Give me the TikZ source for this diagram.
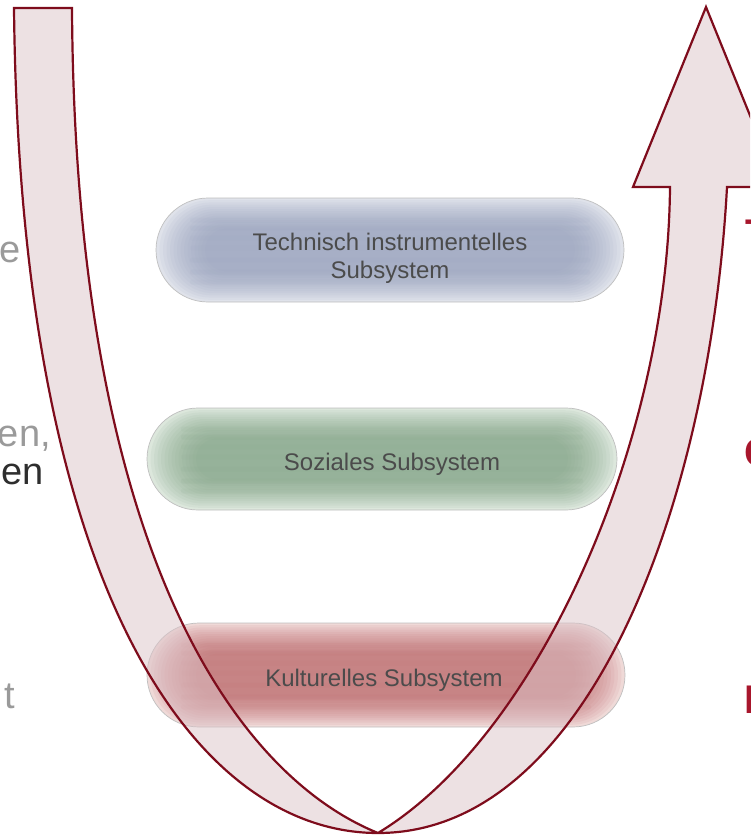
\documentclass[tikz,border=0pt]{standalone}
\usepackage{fontspec}
\setmainfont{Liberation Sans}
\definecolor{arrowline}{HTML}{7E0C1C}
\definecolor{arrowfill}{HTML}{DCC3C8}
\definecolor{techlight}{HTML}{DFE2EA}
\definecolor{techcore}{HTML}{98A2BE}
\definecolor{sozlight}{HTML}{DCE7DC}
\definecolor{sozcore}{HTML}{82A487}
\definecolor{kultlight}{HTML}{EFD9D7}
\definecolor{kultcore}{HTML}{BE6A6D}
\definecolor{captext}{HTML}{4B4B4B}
\definecolor{sidegray}{HTML}{9A9A9A}
\definecolor{sidedark}{HTML}{2E2E2E}
\definecolor{sidered}{HTML}{A8162C}

% soft brush-like band: light base, darker layers towards the middle
\newcommand\drawblob[6]{%
  \fill[#5, draw=black!25, line width=0.7pt, rounded corners=#4/2*1pt]
    (#1-#3/2,#2-#4/2) rectangle (#1+#3/2,#2+#4/2);
  \foreach \k in {1,...,14}{%
    \pgfmathsetmacro\rr{#4/2-2.2*\k}
    \fill[#6, opacity=0.09, rounded corners=\rr pt]
      (#1-#3/2+3.5*\k,#2-#4/2+2.2*\k) rectangle (#1+#3/2-3.5*\k,#2+#4/2-2.2*\k);
  }%
  \foreach \s/\o in {-30/0.08,-22/0.10,-12/0.07,-2/0.06,10/0.09,22/0.11,32/0.08}{%
    \fill[#6, opacity=\o, rounded corners=2pt]
      (#1-#3/2+34,#2+\s-2.5) rectangle (#1+#3/2-34,#2+\s+2.5);
  }%
}

\begin{document}
\begin{tikzpicture}[x=1pt,y=-1pt,
  caption/.style={inner sep=0pt, text=captext, align=center,
    font=\fontsize{24}{28}\selectfont},
  sidetext/.style={inner sep=0pt, anchor=base east,
    font=\fontsize{38}{44}\selectfont},
  sidebold/.style={inner sep=0pt, anchor=base west, text=sidered,
    font=\bfseries\fontsize{40}{46}\selectfont},
  bandfill/.style={fill=arrowfill, fill opacity=0.5},
  bandline/.style={draw=arrowline, line width=2.2pt, line join=miter}]
\useasboundingbox (0,0) rectangle (750,835);
\clip (0,0) rectangle (750,835);

% the three subsystems
\drawblob{390}{250}{468}{104}{techlight}{techcore}
\drawblob{382}{459}{470}{102}{sozlight}{sozcore}
\drawblob{386}{675}{478}{104}{kultlight}{kultcore}

\node[caption] (tech) at (390,258) {Technisch instrumentelles\\Subsystem};
\node[caption, anchor=base] (soz) at (392,470.5) {Soziales Subsystem};
\node[caption, anchor=base] (kult) at (384,686.5) {Kulturelles Subsystem};

% descending band (left) and rising band with head (right)
\path[bandfill]
  (14,8) .. controls (20,600) and (200,833) .. (378,833)
  .. controls (235,775) and (75,550) .. (72,8) -- cycle;
\path[bandfill]
  (378,833) .. controls (540,735) and (668,440) .. (670,187)
  -- (633,187) -- (706,7) -- (779,187) -- (727,187)
  .. controls (710,500) and (590,833) .. (378,833) -- cycle;
\draw[bandline]
  (378,833) .. controls (200,833) and (20,600) .. (14,8)
  -- (72,8) .. controls (75,550) and (235,775) .. (378,833);
\draw[bandline]
  (378,833) .. controls (540,735) and (668,440) .. (670,187)
  -- (633,187) -- (706,7) -- (779,187) -- (727,187)
  .. controls (710,500) and (590,833) .. (378,833);

% text running in from the left margin
\node[sidetext, text=sidegray] (leftA) at (21,262) {e};
\node[sidetext, text=sidegray] (leftB) at (51,446) {en,};
\node[sidetext, text=sidedark] (leftC) at (44,484) {en};
\node[sidetext, text=sidegray] (leftD) at (15,708) {t};

% bold letters at the right margin
\node[sidebold] (rightA) at (745,247) {T};
\node[sidebold] (rightB) at (744,466) {C};
\node[sidebold] (rightC) at (744,713) {E};
\end{tikzpicture}
\end{document}
